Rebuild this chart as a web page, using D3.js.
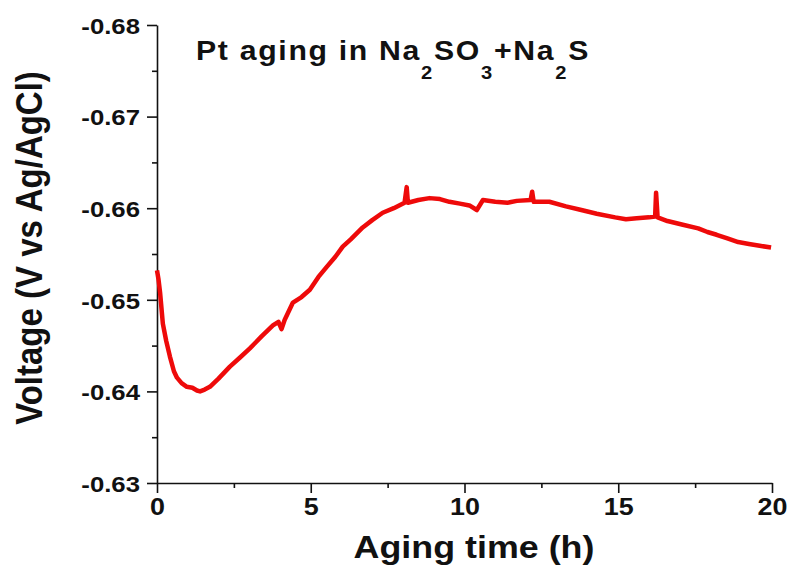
<!DOCTYPE html>
<html>
<head>
<meta charset="utf-8">
<script src="https://cdn.jsdelivr.net/npm/d3@7"></script>
<style>
  body { margin: 0; background: #fff; }
  text { font-family: "Liberation Sans", Arial, sans-serif; font-weight: bold; fill: #111; }
</style>
</head>
<body>
<svg id="chart" width="789" height="567"></svg>
<script>
// aging time (h) and electrode voltage (V vs Ag/AgCl)
const time = [0.00, 0.05, 0.10, 0.19, 0.30, 0.42, 0.55, 0.65, 0.80, 0.97, 1.15, 1.30, 1.40, 1.55, 1.72,
  2.00, 2.37, 2.70, 3.02, 3.40, 3.77, 3.95, 4.05, 4.15, 4.42, 4.70, 4.97, 5.25, 5.52, 5.80,
  6.04, 6.30, 6.69, 7.00, 7.34, 7.70, 8.05, 8.12, 8.16, 8.50, 8.86, 9.20, 9.51, 9.85, 10.16,
  10.40, 10.60, 11.00, 11.40, 11.70, 12.15, 12.20, 12.25, 12.76, 13.30, 13.80, 14.30, 14.90,
  15.25, 15.60, 16.00, 16.20, 16.23, 16.28, 16.60, 17.10, 17.60, 17.90, 18.20, 18.55, 18.90,
  19.25, 19.60, 19.97];
const voltage = [-0.6532, -0.6522, -0.6508, -0.6474, -0.6455, -0.6438, -0.6422, -0.6415, -0.6409, -0.6405, -0.6404, -0.6401, -0.6400, -0.6402, -0.6405,
  -0.6414, -0.6427, -0.6437, -0.6447, -0.6460, -0.6472, -0.6476, -0.6468, -0.6478, -0.6497, -0.6503, -0.6511, -0.6525, -0.6536, -0.6547,
  -0.6558, -0.6566, -0.6579, -0.6587, -0.6595, -0.6600, -0.6606, -0.6623, -0.6606, -0.6609, -0.6611, -0.6610, -0.6607, -0.6605, -0.6603,
  -0.6598, -0.6609, -0.6607, -0.6606, -0.6608, -0.6609, -0.6618, -0.6607, -0.6607, -0.6602, -0.6598, -0.6594, -0.6590,
  -0.6588, -0.6589, -0.6590, -0.6591, -0.6617, -0.6590, -0.6586, -0.6582, -0.6578, -0.6574, -0.6571, -0.6567, -0.6563,
  -0.6561, -0.6559, -0.6557];

const xTicks = [0, 5, 10, 15, 20];
const xMinor = [2.5, 7.5, 12.5, 17.5];
const yTicks = [-0.63, -0.64, -0.65, -0.66, -0.67, -0.68];
const yMinor = [-0.635, -0.645, -0.655, -0.665, -0.675];

const svg = d3.select("#chart");
const stretch = 1.12; // the picture is a little wider than tall

const x = d3.scaleLinear().domain([0, 20]).range([157, 772]);
const y = d3.scaleLinear().domain([-0.63, -0.68]).range([483, 25]);

const points = time.map((t, i) => [t, voltage[i]]);

// minor ticks first, axes on top
svg.append("g")
    .attr("transform", "translate(0,483)")
    .call(d3.axisBottom(x).tickValues(xMinor).tickSize(5).tickFormat(""))
    .call(g => g.select(".domain").remove());
svg.append("g")
    .attr("transform", "translate(157,0)")
    .call(d3.axisLeft(y).tickValues(yMinor).tickSize(5).tickFormat(""))
    .call(g => g.select(".domain").remove());

const gx = svg.append("g")
    .attr("transform", "translate(0,483)")
    .call(d3.axisBottom(x).tickValues(xTicks).tickSize(10).tickSizeOuter(0).tickFormat(d => String(d)));
gx.selectAll("text")
    .attr("font-size", 24)
    .attr("y", 0)
    .attr("transform", "translate(0,15) scale(" + stretch + ",1)");

const gy = svg.append("g")
    .attr("transform", "translate(157,0)")
    .call(d3.axisLeft(y).tickValues(yTicks).tickSize(10).tickSizeOuter(0).tickFormat(d => d.toFixed(2)));
gy.selectAll("text")
    .attr("font-size", 23)
    .attr("x", 0)
    .attr("dy", "0.36em")
    .attr("transform", "translate(-17,0) scale(" + stretch + ",1)");

svg.selectAll(".domain, .tick line").attr("stroke", "#111").attr("stroke-width", 1.6);

svg.append("path")
    .datum(points)
    .attr("fill", "none")
    .attr("stroke", "#ee0a0a")
    .attr("stroke-width", 4.5)
    .attr("stroke-linejoin", "round")
    .attr("d", d3.line().x(d => x(d[0])).y(d => y(d[1])));

// axis titles
svg.append("text")
    .attr("transform", `translate(474,558) scale(${stretch},1)`)
    .attr("text-anchor", "middle")
    .attr("font-size", 32)
    .text("Aging time (h)");

svg.append("text")
    .attr("transform", `translate(42,248) scale(${stretch},1) rotate(-90)`)
    .attr("text-anchor", "middle")
    .attr("font-size", 33)
    .text("Voltage (V vs Ag/AgCl)");

// title with subscripts
const title = svg.append("text")
    .attr("transform", `translate(196,60) scale(${stretch},1)`)
    .attr("font-size", 27)
    .attr("letter-spacing", 1.5);
const parts = [["Pt aging in Na", 0], ["2", 1], ["SO", 0], ["3", 1], ["+Na", 0], ["2", 1], ["S", 0]];
let prevSub = 0;
parts.forEach(([s, sub]) => {
    title.append("tspan")
        .attr("font-size", sub ? 18 : 27)
        .attr("dy", sub ? 19 : (prevSub ? -19 : 0))
        .text(s);
    prevSub = sub;
});
</script>
</body>
</html>
